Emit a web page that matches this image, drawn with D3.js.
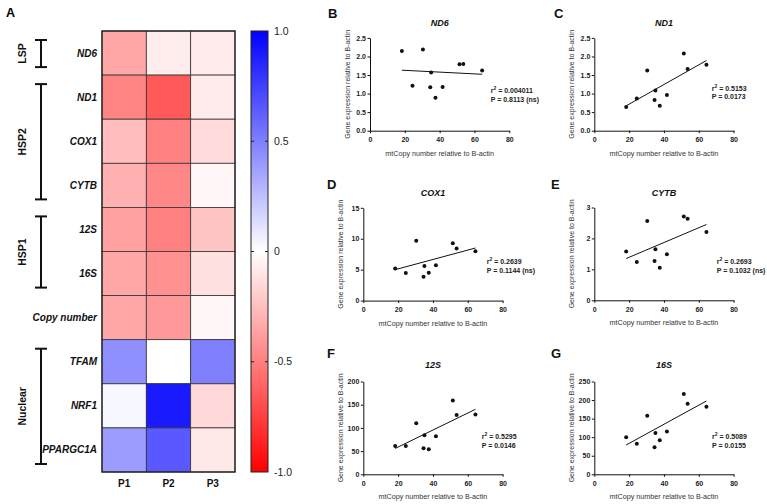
<!DOCTYPE html>
<html><head><meta charset="utf-8">
<script src="https://cdn.jsdelivr.net/npm/d3@7"></script>
<style>
html,body{margin:0;padding:0;background:#fff;}
svg{display:block;font-family:"Liberation Sans",Arial,sans-serif;}
</style></head>
<body>
<svg id="chart" width="767" height="504"></svg>
<script>
// ---------- DATA ----------
const genes = ['ND6','ND1','COX1','CYTB','12S','16S','Copy number','TFAM','NRF1','PPARGC1A'];
const patients = ['P1','P2','P3'];
const valuesP1 = [-0.35,-0.48,-0.26,-0.31,-0.37,-0.35,-0.35, 0.44, 0.03, 0.39];
const valuesP2 = [-0.07,-0.65,-0.50,-0.47,-0.50,-0.43,-0.40, 0.00, 0.90, 0.65];
const valuesP3 = [-0.08,-0.08,-0.14,-0.03,-0.23,-0.12,-0.03, 0.50,-0.15,-0.09];
const colorTicks = [1, 0.5, 0, -0.5, -1];
const colorTickLabels = ['1.0','0.5','0','-0.5','-1.0'];
const groupNames = ['LSP','HSP2','HSP1','Nuclear'];
const groupFirst = ['ND6','ND1','12S','TFAM'];
const groupLast  = ['ND6','CYTB','16S','PPARGC1A'];

const mtCopy   = [18.3, 24.4, 30.4, 34.6, 35.1, 37.6, 41.7, 51.4, 53.6, 64.4];
const nd6Expr  = [2.15, 1.21, 2.19, 1.17, 1.57, 0.89, 1.18, 1.79, 1.80, 1.62];
const nd1Expr  = [0.64, 0.87, 1.62, 0.83, 1.08, 0.67, 0.96, 2.08, 1.66, 1.78];
const cox1Expr = [5.2, 4.46, 9.68, 3.87, 5.59, 4.52, 5.70, 9.25, 8.44, 7.96];
const cytbExpr = [1.575, 1.24, 2.56, 1.27, 1.65, 1.05, 1.49, 2.71, 2.64, 2.21];
const s12Expr  = [61, 61, 110, 56, 84, 54, 82, 159, 128, 129];
const s16Expr  = [100, 82, 158, 73, 111, 92, 115, 216, 190, 182];
const xTicks = [0, 20, 40, 60, 80];
const panelLetters = ['B','C','D','E','F','G'];
const panelTitles = ['ND6','ND1','COX1','CYTB','12S','16S'];
const panelSeries = [nd6Expr, nd1Expr, cox1Expr, cytbExpr, s12Expr, s16Expr];
const panelYMax = [2.5, 2.5, 15, 3, 200, 250];
const panelYTicks = [[0,0.5,1,1.5,2,2.5],[0,0.5,1,1.5,2,2.5],[0,5,10,15],[0,1,2,3],[0,50,100,150,200],[0,50,100,150,200,250]];
const panelFitStart = [1.63, 0.67, 5.0, 1.35, 55.7, 79];
const panelFitEnd   = [1.52, 1.89, 8.5, 2.45, 140, 197.5];
const panelR2 = ['0.004011','0.5153','0.2639','0.2693','0.5295','0.5089'];
const panelP  = ['0.8113 (ns)','0.0173','0.1144 (ns)','0.1032 (ns)','0.0146','0.0155'];
const xLabel = 'mtCopy number relative to B-actin';
const yLabel = 'Gene expression relative to B-actin';

// ---------- LAYOUT ----------
const svg = d3.select('#chart');
const FONT = '"Liberation Sans",Arial,sans-serif';

// Panel A heatmap
svg.append('text').attr('x',6).attr('y',17).attr('font-size',12.5).attr('font-weight','bold').text('A');

const hx = d3.scaleBand().domain(patients).range([102,235]);
const hy = d3.scaleBand().domain(genes).range([31,472]);
const color = d3.scaleLinear().domain([-1,0,1]).range(['#ff0000','#ffffff','#0000ff']);

const cells = [];
genes.forEach((g,i)=>{
  cells.push({g, p:'P1', v:valuesP1[i]});
  cells.push({g, p:'P2', v:valuesP2[i]});
  cells.push({g, p:'P3', v:valuesP3[i]});
});
svg.append('g').selectAll('rect').data(cells).join('rect')
  .attr('x',d=>hx(d.p)).attr('y',d=>hy(d.g))
  .attr('width',hx.bandwidth()).attr('height',hy.bandwidth())
  .attr('fill',d=>color(d.v)).attr('stroke','#333').attr('stroke-width',0.8);
svg.append('rect').attr('x',102).attr('y',31).attr('width',133).attr('height',441)
  .attr('fill','none').attr('stroke','#222').attr('stroke-width',1.3);

// row labels
svg.append('g').selectAll('text').data(genes).join('text')
  .attr('x',97).attr('y',d=>hy(d)+hy.bandwidth()/2).attr('dy','0.35em')
  .attr('text-anchor','end').attr('font-size',10).attr('font-weight','bold')
  .attr('font-style','italic').attr('fill','#111').text(d=>d);
// column labels
svg.append('g').selectAll('text').data(patients).join('text')
  .attr('x',d=>hx(d)+hx.bandwidth()/2).attr('y',487)
  .attr('text-anchor','middle').attr('font-size',10).attr('font-weight','bold')
  .attr('fill','#111').text(d=>d);

// group brackets
const gb = svg.append('g');
groupNames.forEach((n,i)=>{
  const y0 = hy(groupFirst[i]) + 9;
  const y1 = hy(groupLast[i]) + hy.bandwidth() - 8;
  const bx = 41;
  gb.append('line').attr('x1',bx).attr('x2',bx).attr('y1',y0).attr('y2',y1).attr('stroke','#111').attr('stroke-width',2);
  gb.append('line').attr('x1',bx-6).attr('x2',bx+6).attr('y1',y0).attr('y2',y0).attr('stroke','#111').attr('stroke-width',2);
  gb.append('line').attr('x1',bx-6).attr('x2',bx+6).attr('y1',y1).attr('y2',y1).attr('stroke','#111').attr('stroke-width',2);
  const cy = (y0+y1)/2;
  gb.append('text').attr('transform',`translate(26,${cy}) rotate(-90)`)
    .attr('text-anchor','middle').attr('font-size',10.5).attr('font-weight','bold')
    .attr('fill','#111').text(n);
});

// colorbar
const defs = svg.append('defs');
const grad = defs.append('linearGradient').attr('id','cbar').attr('x1',0).attr('x2',0).attr('y1',0).attr('y2',1);
grad.append('stop').attr('offset','0%').attr('stop-color',color(1));
grad.append('stop').attr('offset','50%').attr('stop-color',color(0));
grad.append('stop').attr('offset','100%').attr('stop-color',color(-1));
const cbY = d3.scaleLinear().domain([-1,1]).range([472,31]);
svg.append('rect').attr('x',251).attr('y',31).attr('width',17).attr('height',441)
  .attr('fill','url(#cbar)').attr('stroke','#222').attr('stroke-width',1);
const cbt = svg.append('g');
colorTicks.forEach((t,i)=>{
  if (t!==1 && t!==-1){
    cbt.append('line').attr('x1',251).attr('x2',254).attr('y1',cbY(t)).attr('y2',cbY(t)).attr('stroke','#222');
    cbt.append('line').attr('x1',265).attr('x2',268).attr('y1',cbY(t)).attr('y2',cbY(t)).attr('stroke','#222');
  }
  cbt.append('text').attr('x',274).attr('y',cbY(t)).attr('dy','0.35em')
    .attr('font-size',10.5).attr('fill','#222').text(colorTickLabels[i]);
});

// ---------- scatter panels ----------
const panelLayout = [
  {x0:370,   y0:130.7, annX:120.7, annY:37.4, tY:26,  lY:17.5, lX:328},
  {x0:594.3, y0:130.7, annX:117.4, annY:40,   tY:26,  lY:17.5, lX:554},
  {x0:363.3, y0:300.6, annX:123.4, annY:36.4, tY:196, lY:189,  lX:327},
  {x0:594.3, y0:300.3, annX:122.4, annY:36.2, tY:196, lY:189,  lX:551},
  {x0:363.3, y0:474.3, annX:118.4, annY:35,   tY:368, lY:358,  lX:327},
  {x0:594.3, y0:474.3, annX:117.7, annY:35,   tY:368, lY:358,  lX:551}
];
const AW = 139.3, AH = 92.8;

panelLetters.forEach((L,i)=>{
  const lay = panelLayout[i];
  const g = svg.append('g');
  const xs = d3.scaleLinear().domain([0,80]).range([lay.x0, lay.x0+AW]);
  const ys = d3.scaleLinear().domain([0,panelYMax[i]]).range([lay.y0, lay.y0-AH]);

  g.append('text').attr('x',lay.lX).attr('y',lay.lY).attr('font-size',13).attr('font-weight','bold').attr('fill','#111').text(L);
  g.append('text').attr('x',lay.x0+AW/2).attr('y',lay.tY).attr('text-anchor','middle')
    .attr('font-size',9).attr('font-weight','bold').attr('font-style','italic').attr('fill','#111').text(panelTitles[i]);

  const yDec = panelYMax[i] <= 2.5 ? 1 : 0;
  const xAxis = d3.axisBottom(xs).tickValues(xTicks).tickSize(2.5).tickSizeOuter(0).tickFormat(d3.format('d'));
  const yAxis = d3.axisLeft(ys).tickValues(panelYTicks[i]).tickSize(2.5).tickSizeOuter(0).tickFormat(d3.format('.'+yDec+'f'));
  const gx = g.append('g').attr('transform',`translate(0,${lay.y0})`).call(xAxis);
  const gy = g.append('g').attr('transform',`translate(${lay.x0},0)`).call(yAxis);
  [gx,gy].forEach(a=>{
    a.selectAll('path,line').attr('stroke','#111').attr('stroke-width',1);
    a.selectAll('text').attr('font-family',FONT).attr('font-size',7).attr('font-weight','bold').attr('fill','#222');
  });
  gx.selectAll('text').attr('dy','0.9em');
  gy.selectAll('text').attr('x',-4);

  g.append('text').attr('x',lay.x0+AW/2).attr('y',lay.y0+25).attr('text-anchor','middle')
    .attr('font-size',7.2).attr('fill','#333').text(xLabel);
  g.append('text').attr('transform',`translate(${lay.x0-20},${lay.y0-AH/2}) rotate(-90)`).attr('text-anchor','middle')
    .attr('font-size',7).attr('fill','#333').text(yLabel);

  // fit line
  const xmin = d3.min(mtCopy), xmax = d3.max(mtCopy);
  g.append('line').attr('x1',xs(xmin)).attr('x2',xs(xmax)).attr('y1',ys(panelFitStart[i])).attr('y2',ys(panelFitEnd[i]))
    .attr('stroke','#111').attr('stroke-width',1);
  // points
  g.selectAll('circle').data(mtCopy.map((x,k)=>({x, y:panelSeries[i][k]}))).join('circle')
    .attr('cx',d=>xs(d.x)).attr('cy',d=>ys(d.y)).attr('r',2).attr('fill','#111');

  // annotation
  const ax = lay.x0 + lay.annX, ay = lay.y0 - lay.annY;
  const t1 = g.append('text').attr('x',ax).attr('y',ay).attr('font-size',7).attr('font-weight','bold').attr('fill','#222');
  t1.append('tspan').text('r');
  t1.append('tspan').attr('dy',-3).attr('font-size',5).text('2');
  t1.append('tspan').attr('dy',3).text(' = ' + panelR2[i]);
  g.append('text').attr('x',ax).attr('y',ay+8.5).attr('font-size',7).attr('font-weight','bold').attr('fill','#222')
    .text('P = ' + panelP[i]);
});
</script>
</body></html>
